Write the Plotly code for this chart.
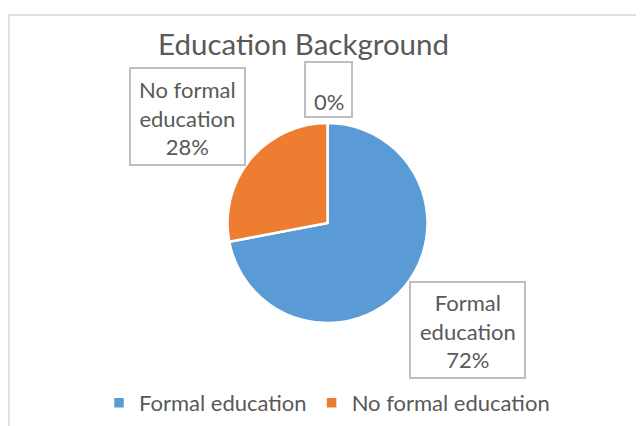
import plotly.graph_objects as go

# ---- data ----
categories = ["Formal education", "No formal education"]
values = [72, 28]
other_label = ""
other_value = 0
colors = ["#5B9BD5", "#ED7D31"]
title_text = "Education Background"

OFF = 8  # default body margin of the html page
W, H = 644 - OFF, 426 - OFF
TXT = "#595959"
FONT = "Lato"

def px(x):
    return (x - OFF) / W

def py(y):
    return 1 - (y - OFF) / H

fig = go.Figure()
fig.add_trace(go.Pie(
    labels=categories,
    values=values,
    marker=dict(colors=colors, line=dict(color="white", width=2.5)),
    sort=False,
    direction="clockwise",
    rotation=0,
    textinfo="none",
    hoverinfo="label+percent",
    domain=dict(x=[px(227), px(428)], y=[py(323), py(123)]),
))

total = sum(values) + other_value
pct = [round(v / total * 100) for v in values]

lbl0 = categories[0].replace(" ", "<br>", 1)
lbl1 = categories[1].rsplit(" ", 1)
lbl1 = lbl1[0] + "<br>" + lbl1[1]

boxes = [
    # (x0, y0, x1, y1, text center x, text center y, text)
    (410, 282, 525, 378, 467.5, 331, f"{lbl0}<br>{pct[0]}%"),
    (130, 68, 245, 165, 187.5, 118, f"{lbl1}<br>{pct[1]}%"),
    (305, 62, 352, 117, 328.5, 101, f"{other_label}{round(other_value / total * 100)}%"),
]

shapes = []
annotations = []
for x0, y0, x1, y1, tx, ty, t in boxes:
    shapes.append(dict(type="rect", xref="paper", yref="paper",
                       x0=px(x0), x1=px(x1), y0=py(y1), y1=py(y0),
                       line=dict(color="#BFBFBF", width=2), fillcolor="white",
                       layer="above"))
    annotations.append(dict(text=t, xref="paper", yref="paper",
                            x=px(tx), y=py(ty), xanchor="center", yanchor="middle",
                            showarrow=False, align="center",
                            font=dict(family=FONT, size=22, color=TXT)))

# chart border
shapes.append(dict(type="rect", xref="paper", yref="paper",
                   x0=px(9), x1=1.05, y0=-0.05, y1=py(15),
                   line=dict(color="#D9D9D9", width=1.5), layer="below"))

# title
annotations.append(dict(text=title_text, xref="paper", yref="paper",
                        x=px(303), y=py(43), xanchor="center", yanchor="middle",
                        showarrow=False,
                        font=dict(family=FONT, size=29.5, color=TXT)))

fig.update_layout(
    width=W, height=H,
    margin=dict(l=0, r=0, t=0, b=0),
    paper_bgcolor="white",
    plot_bgcolor="white",
    shapes=shapes,
    annotations=annotations,
    showlegend=True,
    legend=dict(orientation="h", x=px(327), xanchor="center",
                y=py(403), yanchor="middle",
                font=dict(family=FONT, size=22, color=TXT),
                bgcolor="rgba(0,0,0,0)"),
)

fig.write_html("out.html")
